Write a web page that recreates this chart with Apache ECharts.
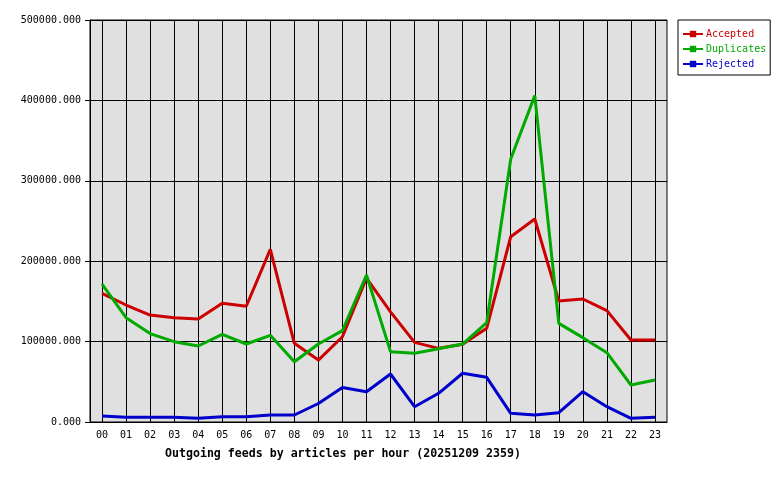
<!DOCTYPE html>
<html>
<head>
<meta charset="utf-8">
<script src="https://cdn.jsdelivr.net/npm/echarts@6/dist/echarts.min.js"></script>
<style>html,body{margin:0;padding:0;background:#fff}#c{width:780px;height:480px}</style>
</head>
<body>
<div id="c"></div>
<script>
const hours = ['00','01','02','03','04','05','06','07','08','09','10','11','12','13','14','15','16','17','18','19','20','21','22','23'];
const accepted = [160000,145500,133000,129700,128000,147600,144000,214800,97900,77000,106000,179000,137000,99000,91600,96600,116500,230500,252500,150500,153000,138500,102000,102000];
const duplicates = [171600,129700,110000,99900,94500,109000,97000,107800,75000,97000,113600,182800,87500,85400,91200,97000,123500,327000,405900,122700,104900,86200,46000,52200];
const rejected = [7500,5800,5800,5800,4600,6600,6600,8700,8700,23000,43000,37700,59700,19000,35700,60600,55600,10800,8700,11600,37700,19000,4600,5800];
const yTicks = { min: 0, max: 500000, interval: 100000 };
const titleText = 'Outgoing feeds by articles per hour (20251209 2359)';

const mono = 'DejaVu Sans Mono';
const chart = echarts.init(document.getElementById('c'), null, { renderer: 'canvas' });
function lineSeries(name, data, color) {
  return {
    name, type: 'line', data, z: 5,
    symbol: 'rect', symbolSize: 4, showSymbol: false,
    lineStyle: { color, width: 3 }, itemStyle: { color },
    emphasis: { disabled: true }, animation: false
  };
}
chart.setOption({
  animation: false,
  title: {
    text: titleText, left: 160, top: 443,
    textStyle: { fontFamily: mono, fontSize: 11.6, fontWeight: 'bold', color: '#000' }
  },
  legend: {
    orient: 'vertical', left: 678, top: 20,
    padding: [9, 4, 6, 4], itemGap: 5,
    borderColor: '#000', borderWidth: 1, backgroundColor: '#fff',
    itemWidth: 20, itemHeight: 8,
    textStyle: { fontFamily: mono, fontSize: 10, padding: [0,0,0,-2] },
    data: [
      { name: 'Accepted', textStyle: { color: '#cc0000' } },
      { name: 'Duplicates', textStyle: { color: '#00aa00' } },
      { name: 'Rejected', textStyle: { color: '#0000cc' } }
    ]
  },
  grid: {
    left: 90, top: 20, width: 577, height: 402,
    show: true, backgroundColor: '#e0e0e0', borderColor: '#000', borderWidth: 1
  },
  xAxis: {
    type: 'category', data: hours, boundaryGap: true,
    axisLine: { lineStyle: { color: '#000' } },
    axisTick: { alignWithLabel: true, length: 4, lineStyle: { color: '#000' } },
    axisLabel: { fontFamily: mono, fontSize: 10, color: '#000', margin: 8 },
    splitLine: { show: false }
  },
  yAxis: {
    type: 'value', min: yTicks.min, max: yTicks.max, interval: yTicks.interval,
    axisLine: { show: true, lineStyle: { color: '#000' } },
    axisTick: { show: true, inside: false, length: 5, lineStyle: { color: '#000' } },
    axisLabel: { fontFamily: mono, fontSize: 10, color: '#000', margin: 9,
      formatter: v => v.toFixed(3) },
    splitLine: { show: true, lineStyle: { color: '#000', width: 1 } }
  },
  series: [
    {
      type: 'line', data: [], z: 1, silent: true,
      markLine: {
        silent: true, symbol: 'none', animation: false,
        label: { show: false },
        lineStyle: { color: '#000', width: 1, type: 'solid' },
        data: hours.map(h => ({ xAxis: h }))
      }
    },
    lineSeries('Accepted', accepted, '#cc0000'),
    lineSeries('Duplicates', duplicates, '#00aa00'),
    lineSeries('Rejected', rejected, '#0000cc')
  ]
});
</script>
</body>
</html>
